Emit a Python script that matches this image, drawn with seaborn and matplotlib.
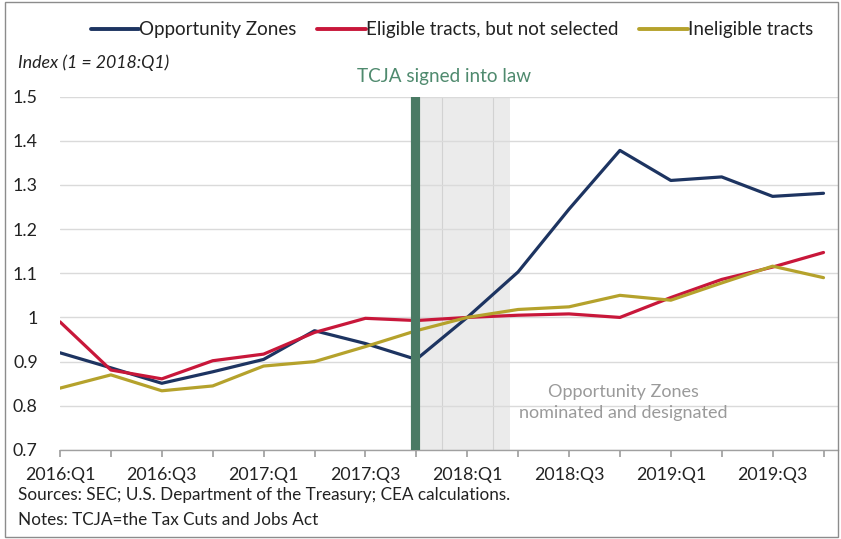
import numpy as np
import pandas as pd
import matplotlib
matplotlib.use("Agg")
import matplotlib.pyplot as plt
import seaborn as sns
from matplotlib.patches import Rectangle

# Quarterly index values (1 = 2018:Q1)
quarters = ["2016:Q1", "2016:Q2", "2016:Q3", "2016:Q4",
            "2017:Q1", "2017:Q2", "2017:Q3", "2017:Q4",
            "2018:Q1", "2018:Q2", "2018:Q3", "2018:Q4",
            "2019:Q1", "2019:Q2", "2019:Q3", "2019:Q4"]
opportunity_zones = [0.920, 0.886, 0.851, 0.877, 0.905, 0.970, 0.941, 0.905,
                     1.000, 1.103, 1.245, 1.378, 1.310, 1.318, 1.274, 1.281]
eligible_not_selected = [0.990, 0.881, 0.861, 0.902, 0.917, 0.966, 0.998, 0.993,
                         1.000, 1.005, 1.008, 1.000, 1.045, 1.086, 1.114, 1.147]
ineligible = [0.840, 0.870, 0.834, 0.845, 0.890, 0.900, 0.934, 0.970,
              1.000, 1.018, 1.024, 1.050, 1.039, 1.078, 1.116, 1.090]
series_names = ["Opportunity Zones", "Eligible tracts, but not selected", "Ineligible tracts"]
tcja_quarter = "2017:Q4"
oz_window = ("2017:Q4", "2018:Q2")

colors = ["#1d3461", "#c8173a", "#b5a22c"]
text_color = "#222222"

sns.set_theme(style="white")
plt.rcParams["font.family"] = ["Lato", "DejaVu Sans"]

pos = np.arange(len(quarters))
df = pd.DataFrame({
    "pos": np.tile(pos, 3),
    "value": opportunity_zones + eligible_not_selected + ineligible,
    "series": np.repeat(series_names, len(quarters)),
})

fig = plt.figure(figsize=(8.41, 5.39), dpi=100)
ax = fig.add_axes([60 / 841, 1 - 450 / 539, (838 - 60) / 841, (450 - 96.5) / 539])

# Shaded window for Opportunity Zone nomination/designation
i_tcja = quarters.index(tcja_quarter)
i_end = quarters.index(oz_window[1])
ax.axvspan(i_tcja, i_end - 0.15, color="#ebebeb", zorder=0, lw=0)
for xv in (i_tcja + 0.5, i_tcja + 1.5):
    ax.axvline(xv, color="#d2d2d2", lw=0.8, zorder=0.5)

sns.lineplot(data=df, x="pos", y="value", hue="series", hue_order=series_names,
             palette=colors, linewidth=2.3, ax=ax, zorder=3)

# TCJA signing marker
ax.axvline(i_tcja - 0.03, color="#4a7a64", lw=6.6, zorder=4)

ax.set_xlim(0, (838 - 60) / 50.9)
ax.set_ylim(0.7, 1.5)
yt = [0.7, 0.8, 0.9, 1.0, 1.1, 1.2, 1.3, 1.4, 1.5]
ax.set_yticks(yt)
ax.set_yticklabels(["0.7", "0.8", "0.9", "1", "1.1", "1.2", "1.3", "1.4", "1.5"])
ax.set_xticks(pos)
ax.set_xticklabels([q if i % 2 == 0 else "" for i, q in enumerate(quarters)])
ax.yaxis.grid(True, color="#dadada", lw=1)
ax.xaxis.grid(False)
for s in ("top", "right", "left"):
    ax.spines[s].set_visible(False)
ax.spines["bottom"].set_color("#a0a0a0")
ax.spines["bottom"].set_linewidth(1)
ax.tick_params(axis="x", bottom=True, length=5, color="#a0a0a0", labelsize=12.8,
               labelcolor=text_color, pad=7)
ax.tick_params(axis="y", left=False, labelsize=12.8, labelcolor=text_color, pad=10)
ax.set_xlabel("")
ax.set_ylabel("")

sns.move_legend(ax, "center", bbox_to_anchor=(452 / 841, 1 - 30 / 539),
                bbox_transform=fig.transFigure, ncol=3, frameon=False, title=None,
                fontsize=13.5, handlelength=2.6, handletextpad=0.0, columnspacing=1.1)
leg = ax.get_legend()
for t in leg.get_texts():
    t.set_color(text_color)
for h in leg.get_lines():
    h.set_linewidth(2.8)

fig.text(18 / 841, 1 - 63 / 539, "Index (1 = 2018:Q1)", fontsize=12.8, style="italic",
         color=text_color, va="center", ha="left")
ax.text(7.55, 1.527, "TCJA signed into law", fontsize=13.6, color="#4f8a6e",
        ha="center", va="bottom")
ax.text(11.07, 0.807, "Opportunity Zones\nnominated and designated", fontsize=13,
        color="#9a9a9a", ha="center", va="center", linespacing=1.35)

fig.text(18 / 841, 1 - 495 / 539, "Sources: SEC; U.S. Department of the Treasury; CEA calculations.",
         fontsize=12.3, color=text_color, va="center", ha="left")
fig.text(18 / 841, 1 - 520 / 539, "Notes: TCJA=the Tax Cuts and Jobs Act",
         fontsize=12.3, color=text_color, va="center", ha="left")

# Outer frame
fig.patches.append(Rectangle((5 / 841, 2 / 539), 833 / 841, 535 / 539, transform=fig.transFigure,
                             fill=False, edgecolor="#8c8c8c", lw=1))

fig.savefig("out.png", dpi=100)
